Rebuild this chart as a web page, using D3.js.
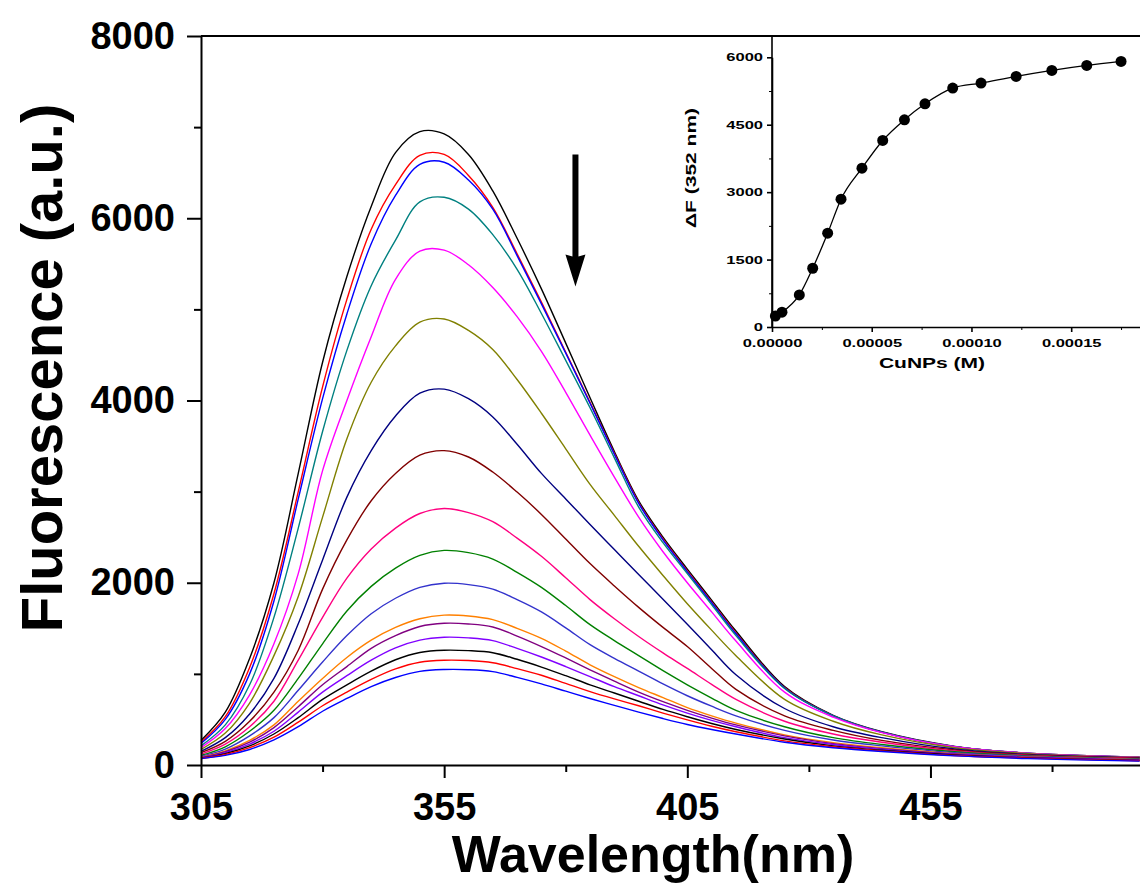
<!DOCTYPE html>
<html>
<head>
<meta charset="utf-8">
<script src="https://cdn.jsdelivr.net/npm/d3@7"></script>
<style>
  body { margin: 0; background: #fff; }
  svg { display: block; }
  text { font-family: "Liberation Sans", Arial, sans-serif; font-weight: bold; }
</style>
</head>
<body>
<svg width="1140" height="887"></svg>
<script>
const width = 1140, height = 887;
const svg = d3.select("svg");

// emission spectra (a.u.)
const wavelengths = [305, 310, 315, 320, 325, 330, 335, 340, 345, 350, 355, 360, 365, 370, 375, 380, 385, 390,
  395, 400, 405, 410, 415, 425, 435, 445, 460, 475, 498];
const spectra = [
  [270, 580, 1170, 2000, 3200, 4420, 5360, 6130, 6720, 6950, 6925, 6700, 6300, 5780, 5225, 4630, 4030, 3440, 2900, 2500, 2150, 1810, 1470, 860, 545, 365, 205, 130, 85],
  [250, 530, 1070, 1880, 3000, 4150, 5110, 5880, 6370, 6690, 6700, 6470, 6120, 5610, 5080, 4530, 3980, 3420, 2880, 2480, 2130, 1790, 1450, 850, 540, 360, 200, 128, 85],
  [235, 500, 1000, 1800, 2920, 4020, 4950, 5720, 6250, 6590, 6615, 6420, 6100, 5590, 5060, 4520, 3970, 3410, 2870, 2470, 2120, 1780, 1440, 845, 540, 360, 200, 128, 84],
  [210, 440, 880, 1620, 2600, 3660, 4550, 5260, 5760, 6180, 6230, 6100, 5820, 5440, 4955, 4440, 3920, 3370, 2830, 2440, 2100, 1760, 1420, 840, 540, 360, 200, 130, 86],
  [190, 400, 770, 1330, 2100, 3230, 4000, 4700, 5330, 5640, 5650, 5490, 5240, 4920, 4540, 4090, 3620, 3160, 2720, 2340, 2000, 1680, 1360, 800, 525, 355, 200, 130, 86],
  [170, 350, 680, 1200, 1850, 2720, 3580, 4200, 4600, 4860, 4895, 4770, 4560, 4230, 3860, 3470, 3080, 2740, 2400, 2080, 1770, 1480, 1200, 720, 480, 330, 190, 125, 82],
  [150, 300, 560, 950, 1550, 2250, 2940, 3450, 3830, 4080, 4125, 4020, 3820, 3520, 3200, 2920, 2640, 2365, 2090, 1820, 1545, 1265, 990, 620, 420, 300, 175, 115, 78],
  [135, 260, 480, 800, 1260, 1930, 2470, 2900, 3200, 3400, 3450, 3380, 3215, 2995, 2750, 2480, 2210, 1965, 1730, 1510, 1300, 1060, 830, 540, 380, 270, 165, 110, 74],
  [120, 230, 420, 700, 1150, 1620, 2050, 2370, 2600, 2760, 2815, 2770, 2670, 2490, 2290, 2055, 1815, 1605, 1410, 1230, 1060, 885, 720, 480, 340, 250, 155, 105, 70],
  [105, 200, 370, 600, 950, 1330, 1690, 1960, 2160, 2300, 2355, 2330, 2260, 2115, 1950, 1750, 1540, 1365, 1200, 1035, 880, 735, 600, 420, 300, 225, 145, 100, 66],
  [95, 175, 320, 520, 820, 1130, 1420, 1660, 1830, 1950, 1995, 1980, 1930, 1815, 1680, 1505, 1320, 1170, 1030, 890, 760, 645, 540, 380, 275, 210, 135, 95, 62],
  [85, 155, 270, 440, 700, 950, 1180, 1370, 1510, 1605, 1645, 1635, 1595, 1500, 1390, 1250, 1100, 970, 850, 740, 630, 540, 460, 330, 245, 190, 125, 88, 58],
  [80, 145, 250, 410, 640, 880, 1080, 1280, 1420, 1520, 1555, 1548, 1515, 1415, 1300, 1175, 1045, 920, 800, 695, 600, 515, 440, 320, 235, 180, 120, 85, 56],
  [78, 135, 230, 370, 580, 800, 980, 1150, 1285, 1370, 1402, 1395, 1365, 1280, 1185, 1080, 970, 860, 760, 660, 570, 490, 420, 300, 225, 172, 115, 82, 54],
  [75, 125, 210, 340, 520, 720, 880, 1030, 1155, 1235, 1260, 1255, 1232, 1160, 1075, 980, 880, 790, 700, 610, 530, 455, 390, 285, 210, 162, 110, 78, 50],
  [72, 115, 190, 305, 470, 650, 800, 940, 1055, 1128, 1150, 1146, 1122, 1058, 985, 895, 805, 725, 650, 570, 495, 425, 365, 265, 200, 155, 105, 75, 46],
  [70, 105, 170, 275, 420, 590, 730, 860, 960, 1028, 1048, 1046, 1025, 962, 890, 810, 730, 655, 580, 510, 445, 390, 340, 250, 190, 148, 100, 70, 42]
];
const spectrumColors = ["#000000", "#ff0000", "#0000ff", "#008080", "#ff00ff", "#808000", "#000080", "#800000",
  "#ff0080", "#008000", "#3333cc", "#ff8000", "#800080", "#8000ff", "#000000", "#ff0000", "#0000ff"];

const xMajor = [305, 355, 405, 455];
const xMinor = [330, 380, 430, 480];
const yMajor = [0, 2000, 4000, 6000, 8000];
const yMinor = [1000, 3000, 5000, 7000];

// inset: ΔF at 352 nm vs CuNPs concentration
const insetConc = [0.0000017, 0.000005, 0.0000137, 0.0000204, 0.0000279, 0.0000346, 0.0000451, 0.0000555,
  0.0000664, 0.0000767, 0.0000906, 0.0001048, 0.0001224, 0.0001403, 0.0001578, 0.000175];
const insetDeltaF = [245, 330, 713, 1307, 2086, 2843, 3534, 4150, 4610, 4966, 5315, 5426, 5575, 5709, 5820, 5909];
const insetXMajor = [0, 0.00005, 0.0001, 0.00015];
const insetXMinor = [0.000025, 0.000075, 0.000125, 0.000175];
const insetYMajor = [0, 1500, 3000, 4500, 6000];
const insetYMinor = [750, 2250, 3750, 5250];

// main scales
const x = d3.scaleLinear().domain([305, 498.5]).range([201, 1142]);
const y = d3.scaleLinear().domain([0, 8000]).range([765, 36]);

// spectra
const line = d3.line()
  .x((d, i) => x(wavelengths[i]))
  .y(d => y(d))
  .curve(d3.curveCatmullRom.alpha(0.5));

svg.append("g")
  .selectAll("path")
  .data(spectra)
  .join("path")
  .attr("d", line)
  .attr("fill", "none")
  .attr("stroke", (d, i) => spectrumColors[i])
  .attr("stroke-width", 1.4);

// frame top
svg.append("line")
  .attr("x1", x(305)).attr("x2", width)
  .attr("y1", y(8000)).attr("y2", y(8000))
  .attr("stroke", "#000").attr("stroke-width", 2);

// axes
function styleAxis(g, w) {
  g.select(".domain").attr("stroke-width", w);
  g.selectAll(".tick line").attr("stroke-width", w);
}

svg.append("g")
  .attr("transform", `translate(0,${y(0)})`)
  .call(d3.axisBottom(x).tickValues(xMinor).tickSize(7).tickFormat(""))
  .call(g => g.select(".domain").remove())
  .call(g => g.selectAll(".tick line").attr("stroke-width", 2));

svg.append("g")
  .attr("transform", `translate(0,${y(0)})`)
  .call(d3.axisBottom(x).tickValues(xMajor).tickSize(13).tickPadding(15).tickSizeOuter(0))
  .call(g => styleAxis(g, 2))
  .call(g => g.selectAll("text").attr("font-size", 38).attr("fill", "#000"));

svg.append("g")
  .attr("transform", `translate(${x(305)},0)`)
  .call(d3.axisLeft(y).tickValues(yMinor).tickSize(7).tickFormat(""))
  .call(g => g.select(".domain").remove())
  .call(g => g.selectAll(".tick line").attr("stroke-width", 2));

svg.append("g")
  .attr("transform", `translate(${x(305)},0)`)
  .call(d3.axisLeft(y).tickValues(yMajor).tickSize(14).tickPadding(12).tickSizeOuter(0)
    .tickFormat(d3.format("d")))
  .call(g => styleAxis(g, 2))
  .call(g => g.selectAll("text").attr("font-size", 38).attr("fill", "#000"));

// axis titles
svg.append("text")
  .attr("x", 653).attr("y", 872)
  .attr("text-anchor", "middle")
  .attr("font-size", 52)
  .text("Wavelength(nm)");

svg.append("text")
  .attr("transform", "translate(62,368) rotate(-90)")
  .attr("text-anchor", "middle")
  .attr("font-size", 58)
  .text("Fluorescence (a.u.)");

// arrow showing quenching
const ax = x(382), ay0 = y(6700), ay1 = y(5250);
svg.append("path")
  .attr("d", `M${ax - 3},${ay0} L${ax + 3},${ay0} L${ax + 3},${ay1 - 30} L${ax + 10},${ay1 - 32}
    L${ax},${ay1} L${ax - 10},${ay1 - 32} L${ax - 3},${ay1 - 30} Z`)
  .attr("fill", "#000");

// inset
const ix = d3.scaleLinear().domain([0, 0.000185]).range([772, 1141]);
const iy = d3.scaleLinear().domain([0, 6000]).range([327, 57.3]);
const inset = svg.append("g");

inset.append("path")
  .datum(insetDeltaF)
  .attr("d", d3.line().x((d, i) => ix(insetConc[i])).y(d => iy(d)).curve(d3.curveMonotoneX))
  .attr("fill", "none")
  .attr("stroke", "#000")
  .attr("stroke-width", 1.3);

inset.append("g")
  .selectAll("circle")
  .data(insetDeltaF)
  .join("circle")
  .attr("cx", (d, i) => ix(insetConc[i]))
  .attr("cy", d => iy(d))
  .attr("r", 5.5)
  .attr("fill", "#000");

inset.append("g")
  .attr("transform", `translate(0,${iy(0)})`)
  .call(d3.axisBottom(ix).tickValues(insetXMinor).tickSize(3).tickFormat(""))
  .call(g => g.select(".domain").remove());

inset.append("g")
  .attr("transform", `translate(0,${iy(0)})`)
  .call(d3.axisBottom(ix).tickValues(insetXMajor).tickSize(5).tickPadding(7).tickSizeOuter(0)
    .tickFormat(d3.format(".5f")))
  .call(g => styleAxis(g, 1.6))
  .call(g => g.selectAll("text").attr("font-size", 11).attr("fill", "#000"));

inset.append("g")
  .attr("transform", `translate(${ix(0)},0)`)
  .call(d3.axisLeft(iy).tickValues(insetYMinor).tickSize(3).tickFormat(""))
  .call(g => g.select(".domain").remove());

inset.append("g")
  .attr("transform", `translate(${ix(0)},0)`)
  .call(d3.axisLeft(iy).tickValues(insetYMajor).tickSize(5).tickPadding(4).tickSizeOuter(0)
    .tickFormat(d3.format("d")))
  .call(g => styleAxis(g, 1.6))
  .call(g => g.selectAll("text").attr("font-size", 11).attr("fill", "#000"));

// inset left axis runs up to the frame top
inset.append("line")
  .attr("x1", ix(0)).attr("x2", ix(0))
  .attr("y1", y(8000)).attr("y2", iy(0))
  .attr("stroke", "#000").attr("stroke-width", 1.6);

inset.append("text")
  .attr("x", 932).attr("y", 368)
  .attr("text-anchor", "middle")
  .attr("font-size", 14)
  .text("CuNPs (M)");

inset.append("text")
  .attr("transform", "translate(696,168) rotate(-90)")
  .attr("text-anchor", "middle")
  .attr("font-size", 14)
  .text("ΔF (352 nm)");

// the inset lettering is stretched along its reading direction
inset.selectAll("text").each(function () {
  const len = this.getComputedTextLength();
  d3.select(this).attr("textLength", len * 1.5).attr("lengthAdjust", "spacingAndGlyphs");
});
</script>
</body>
</html>
